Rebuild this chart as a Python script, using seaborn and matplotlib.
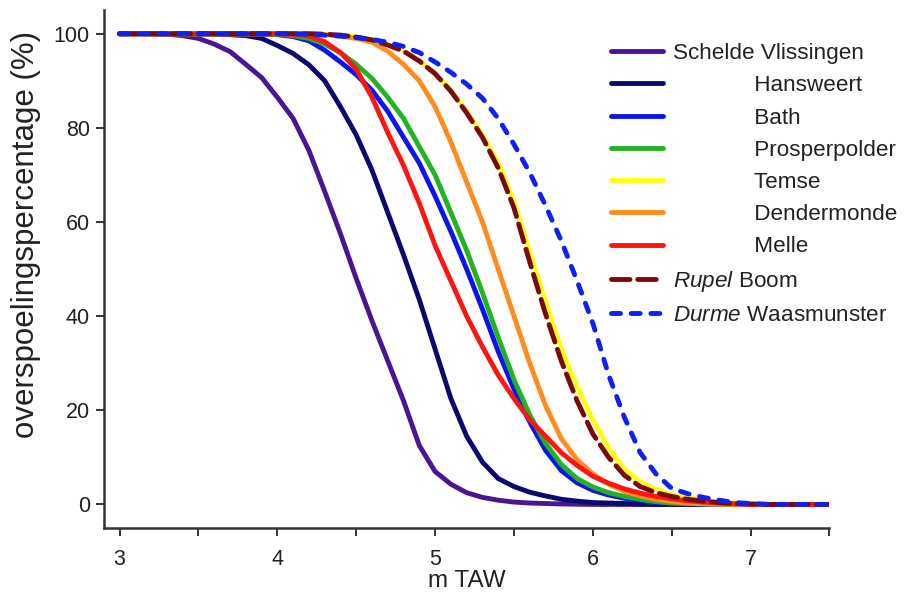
import seaborn as sns
import matplotlib.pyplot as plt
from matplotlib.ticker import MultipleLocator

# water level (m TAW)
x_taw = [3.0, 3.1, 3.2, 3.3, 3.4, 3.5, 3.6, 3.7, 3.8, 3.9,
         4.0, 4.1, 4.2, 4.3, 4.4, 4.5, 4.6, 4.7, 4.8, 4.9,
         5.0, 5.1, 5.2, 5.3, 5.4, 5.5, 5.6, 5.7, 5.8, 5.9,
         6.0, 6.1, 6.2, 6.3, 6.4, 6.5, 6.6, 6.7, 6.8, 6.9,
         7.0, 7.1, 7.2, 7.3, 7.4, 7.5]

vlissingen = [100, 100, 100, 99.9, 99.6, 99.0, 97.8, 96.2, 93.5, 90.7,
              86.5, 82.0, 75.2, 66.5, 57.5, 48.0, 39.0, 30.5, 22.0, 12.5,
              7.0, 4.3, 2.5, 1.5, 0.9, 0.5, 0.3, 0.2, 0.1, 0.05,
              0, 0, 0, 0, 0, 0, 0, 0, 0, 0, 0, 0, 0, 0, 0, 0]
hansweert = [100, 100, 100, 100, 100, 100, 99.9, 99.8, 99.6, 99.0,
             97.5, 95.8, 93.4, 90.0, 84.5, 78.5, 71.0, 62.0, 53.0, 43.5,
             33.0, 22.5, 14.5, 9.0, 5.5, 3.8, 2.6, 1.8, 1.1, 0.7,
             0.4, 0.3, 0.2, 0.1, 0, 0, 0, 0, 0, 0, 0, 0, 0, 0, 0, 0]
bath = [100, 100, 100, 100, 100, 100, 100, 100, 100, 99.9,
        99.8, 99.4, 98.5, 96.5, 94.0, 91.3, 88.0, 83.5, 78.0, 72.5,
        65.5, 58.0, 50.0, 41.5, 32.5, 24.5, 17.5, 11.5, 7.2, 4.6,
        3.0, 2.0, 1.3, 0.8, 0.4, 0.2, 0.1, 0, 0, 0, 0, 0, 0, 0, 0, 0]
prosperpolder = [100, 100, 100, 100, 100, 100, 100, 100, 100, 100,
                 99.9, 99.6, 99.0, 97.8, 96.0, 93.5, 90.5, 86.5, 82.0, 76.0,
                 70.0, 62.0, 54.0, 45.0, 35.5, 26.5, 19.0, 13.0, 8.5, 5.5,
                 3.7, 2.5, 1.7, 1.1, 0.6, 0.3, 0.2, 0.1, 0, 0, 0, 0, 0, 0, 0, 0]
temse = [100, 100, 100, 100, 100, 100, 100, 100, 100, 100,
         100, 100, 100, 99.9, 99.7, 99.3, 98.7, 97.7, 96.4, 94.3,
         91.6, 88.0, 83.5, 78.5, 72.5, 64.5, 53.5, 43.0, 33.0, 25.0,
         18.0, 12.0, 7.5, 4.8, 3.2, 2.1, 1.4, 0.9, 0.5, 0.3,
         0.1, 0, 0, 0, 0, 0]
dendermonde = [100, 100, 100, 100, 100, 100, 100, 100, 100, 100,
               100, 100, 100, 99.8, 99.5, 99.0, 98.2, 96.3, 93.5, 90.0,
               84.5, 77.0, 68.5, 60.0, 50.0, 40.0, 30.0, 21.0, 14.0, 9.5,
               6.5, 4.3, 2.8, 1.8, 1.1, 0.6, 0.3, 0.15, 0.05, 0,
               0, 0, 0, 0, 0, 0]
melle = [100, 100, 100, 100, 100, 100, 100, 100, 100, 100,
         100, 99.9, 99.5, 98.3, 96.0, 92.5, 86.5, 79.0, 72.0, 64.0,
         55.0, 47.5, 40.0, 33.5, 27.5, 22.5, 18.0, 14.5, 11.0, 8.3,
         6.0, 4.5, 3.3, 2.4, 1.7, 1.2, 0.8, 0.5, 0.3, 0.15,
         0.05, 0, 0, 0, 0, 0]
rupel_boom = [100, 100, 100, 100, 100, 100, 100, 100, 100, 100,
              100, 100, 100, 99.9, 99.7, 99.3, 98.7, 97.6, 96.3, 94.2,
              91.5, 87.8, 83.2, 78.0, 71.5, 63.0, 51.5, 40.5, 30.5, 22.0,
              15.0, 10.0, 6.2, 3.8, 2.5, 1.7, 1.1, 0.7, 0.4, 0.2,
              0.1, 0, 0, 0, 0, 0]
durme_waasmunster = [100, 100, 100, 100, 100, 100, 100, 100, 100, 100,
                     100, 100, 99.9, 99.7, 99.5, 99.2, 98.8, 98.2, 97.3, 96.0,
                     94.0, 91.8, 89.3, 86.3, 82.0, 76.5, 70.5, 63.5, 56.0, 47.5,
                     38.5, 27.5, 18.5, 11.0, 6.5, 3.4, 2.3, 1.5, 0.9, 0.4,
                     0.2, 0.05, 0, 0, 0, 0]

pad = " " * 13
labels = ["Schelde Vlissingen", pad + "Hansweert", pad + "Bath", pad + "Prosperpolder",
          pad + "Temse", pad + "Dendermonde", pad + "Melle",
          r"$\it{Rupel}$ Boom", r"$\it{Durme}$ Waasmunster"]
series = [vlissingen, hansweert, bath, prosperpolder, temse, dendermonde, melle,
          rupel_boom, durme_waasmunster]
colors = ["#4a1590", "#0a0a6e", "#0a14f0", "#22b322", "#ffff10", "#ff8c1e",
          "#ff1414", "#7a0a0a", "#1020f5"]
styles = ["-", "-", "-", "-", "-", "-", "-", (0, (3.8, 1.6)), (0, (1.85, 2.2))]

sns.set_style("ticks")
plt.rcParams["font.family"] = ["Liberation Sans", "DejaVu Sans"]
plt.rcParams["mathtext.fontset"] = "custom"
plt.rcParams["mathtext.it"] = "Liberation Sans:italic"
plt.rcParams["mathtext.rm"] = "Liberation Sans"

fig = plt.figure(figsize=(9.15, 6.01), dpi=100)
ax = fig.add_axes([0.1135, 0.1215, 0.793, 0.8615])

for vals, lab, col, ls in zip(series, labels, colors, styles):
    sns.lineplot(x=x_taw, y=vals, ax=ax, color=col, linewidth=3.5, label=lab,
                 linestyle=ls, dash_capstyle="round", solid_capstyle="round")

ax.set_xlim(2.9, 7.5)
ax.set_ylim(-5, 105)
ax.xaxis.set_major_locator(MultipleLocator(1))
ax.xaxis.set_minor_locator(MultipleLocator(0.5))
ax.set_yticks([0, 20, 40, 60, 80, 100])
ax.tick_params(axis="both", which="both", length=6, width=1.4, color="#333333",
               labelsize=15.5, labelcolor="#222222", pad=4)
ax.tick_params(axis="x", pad=9)
for s in ["left", "bottom"]:
    ax.spines[s].set_linewidth(1.8)
    ax.spines[s].set_color("#333333")
sns.despine(ax=ax)

ax.set_xlabel("m TAW", fontsize=17.5, color="#222222", labelpad=0)
ax.set_ylabel("overspoelingspercentage (%)", fontsize=22.5, color="#222222")
ax.yaxis.set_label_coords(-0.087, 0.567)

leg = ax.legend(loc="upper left", bbox_to_anchor=(611 / 915, 1 - 43 / 601),
                bbox_transform=fig.transFigure, frameon=False, fontsize=16.2,
                handlelength=2.3, handletextpad=0.45, labelspacing=0.5,
                borderpad=0, borderaxespad=0)
for t in leg.get_texts():
    t.set_color("#222222")

fig.savefig("out.png", dpi=100)
